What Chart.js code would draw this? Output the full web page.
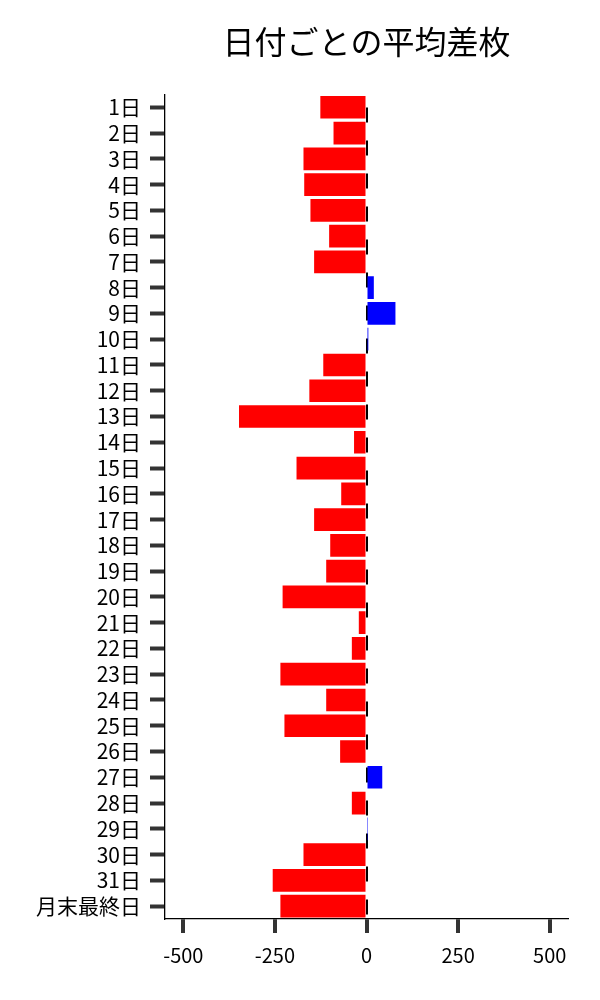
<!doctype html>
<html>

<head>
    <meta charset="utf-8">
    <title>日付ごとの平均差枚</title>
    <script src="https://cdn.jsdelivr.net/npm/chart.js"></script>
    <style>
        body { margin: 0; background: #fff; }
    </style>
</head>

<body>
    <canvas id="grafico" width="600" height="1000"></canvas>

    <script>
        // dados
        var dias = ['1日', '2日', '3日', '4日', '5日', '6日', '7日', '8日', '9日', '10日',
            '11日', '12日', '13日', '14日', '15日', '16日', '17日', '18日', '19日', '20日',
            '21日', '22日', '23日', '24日', '25日', '26日', '27日', '28日', '29日', '30日',
            '31日', '月末最終日'];
        var mediaDiferenca = [-126, -90, -172, -170, -153, -102, -143, 20, 79, 5,
            -118, -156, -348, -34, -191, -69, -143, -99, -110, -229,
            -21, -40, -235, -110, -224, -72, 43, -40, 4, -172,
            -256, -235];
        var ticksX = [-500, -250, 0, 250, 500];

        var fonte = '"Noto Sans CJK JP", "Noto Sans", sans-serif';

        var grafico = new Chart(document.getElementById('grafico').getContext('2d'), {
            type: 'bar',
            data: {
                labels: dias,
                datasets: [{
                    label: '平均差枚',
                    data: mediaDiferenca,
                    backgroundColor: mediaDiferenca.map(v => v < 0 ? '#ff0000' : '#0000ff'),
                    borderWidth: 0,
                    barPercentage: 0.88,
                    categoryPercentage: 1
                }]
            },
            options: {
                indexAxis: 'y',
                responsive: false,
                animation: false,
                layout: {
                    padding: { left: 0, right: 32, top: 0, bottom: 31 }
                },
                plugins: {
                    legend: { display: false },
                    tooltip: { enabled: false },
                    title: {
                        display: true,
                        text: '日付ごとの平均差枚',
                        fullSize: false,
                        color: '#000',
                        font: { family: fonte, size: 32, weight: 'normal' },
                        padding: { top: 23, bottom: 33 }
                    }
                },
                scales: {
                    x: {
                        min: -550,
                        max: 550,
                        z: 1,
                        afterBuildTicks: axis => {
                            axis.ticks = ticksX.map(v => ({ value: v }));
                        },
                        afterFit: axis => {
                            axis.height = 50;
                        },
                        grid: {
                            drawOnChartArea: true,
                            color: ctx => (ctx.tick && ctx.tick.value === 0) ? '#000' : 'rgba(0,0,0,0)',
                            lineWidth: 2,
                            tickLength: 14,
                            tickWidth: 4,
                            tickColor: '#333',
                            tickBorderDash: []
                        },
                        border: {
                            color: '#000',
                            width: 1.3,
                            dash: [15, 18],
                            dashOffset: 20
                        },
                        ticks: {
                            color: '#000',
                            padding: 10,
                            font: { family: fonte, size: 20 }
                        }
                    },
                    y: {
                        afterFit: axis => {
                            axis.width = 165;
                        },
                        grid: {
                            offset: false,
                            drawOnChartArea: false,
                            tickLength: 15,
                            tickWidth: 4,
                            tickColor: '#333'
                        },
                        border: {
                            color: '#000',
                            width: 1.3
                        },
                        ticks: {
                            color: '#000',
                            padding: 9,
                            autoSkip: false,
                            font: { family: fonte, size: 21 }
                        }
                    }
                }
            }
        });
    </script>
</body>

</html>
